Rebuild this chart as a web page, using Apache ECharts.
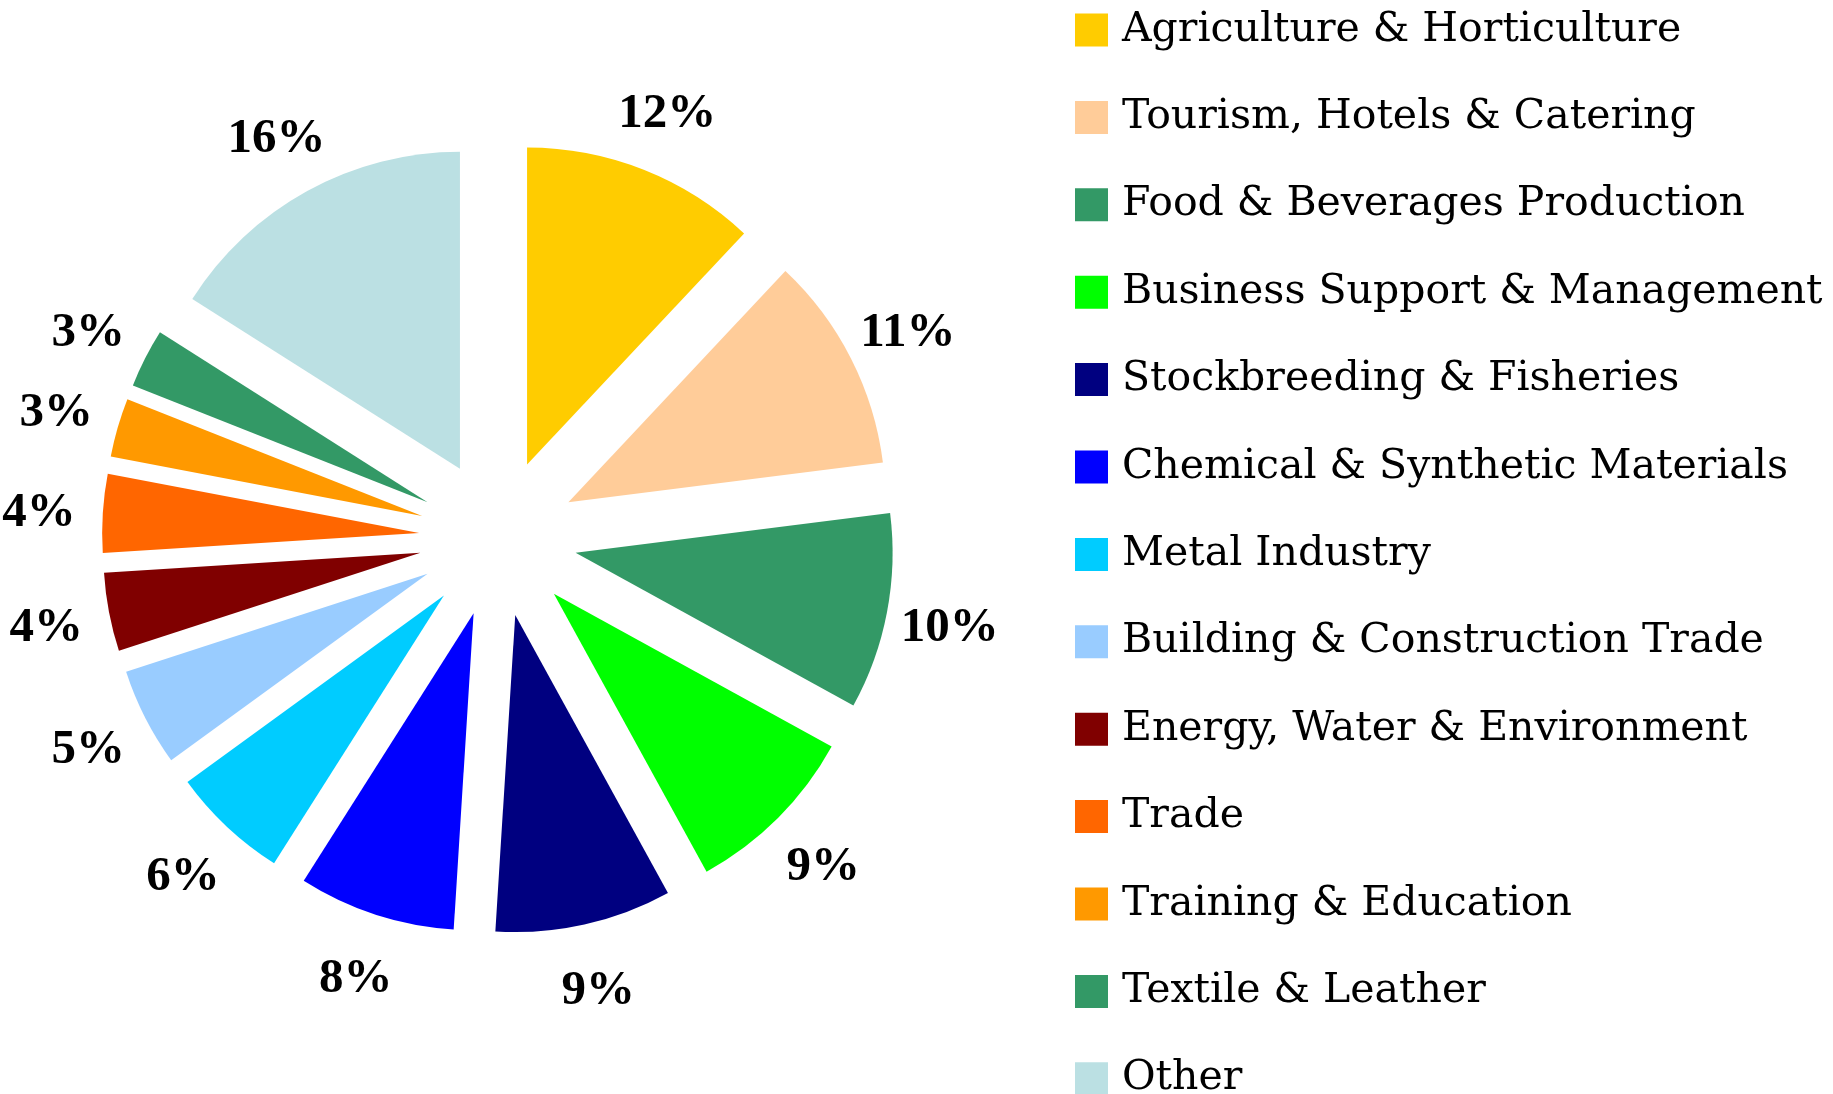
<!DOCTYPE html>
<html>
<head>
<meta charset="utf-8">
<script src="https://cdn.jsdelivr.net/npm/echarts@6/dist/echarts.min.js"></script>
<style>
html,body{margin:0;padding:0;background:#fff;}
#c{width:1833px;height:1094px;}
</style>
</head>
<body>
<div id="c"></div>
<script>
const categories = [
  'Agriculture & Horticulture',
  'Tourism, Hotels & Catering',
  'Food & Beverages Production',
  'Business Support & Management',
  'Stockbreeding & Fisheries',
  'Chemical & Synthetic Materials',
  'Metal Industry',
  'Building & Construction Trade',
  'Energy, Water & Environment',
  'Trade',
  'Training & Education',
  'Textile & Leather',
  'Other'
];
const shares = [12, 11, 10, 9, 9, 8, 6, 5, 4, 4, 3, 3, 16];
const colors = ['#FFCC00', '#FFCC99', '#339966', '#00FF00', '#000080', '#0000FF',
  '#00CCFF', '#99CCFF', '#800000', '#FF6600', '#FF9900', '#339966', '#BBE0E3'];

const chart = echarts.init(document.getElementById('c'), null, {renderer: 'canvas'});

const mainData = categories.map((n, i) => ({
  name: n, value: shares[i], selected: true,
  itemStyle: {color: colors[i]}
}));
const labelData = categories.map((n, i) => ({name: n, value: shares[i]}));

chart.setOption({
  animation: false,
  backgroundColor: '#ffffff',
  legend: {
    orient: 'vertical',
    left: 1075,
    top: 8,
    height: 1400,
    padding: 0,
    itemWidth: 33,
    itemHeight: 33,
    itemGap: 43.4,
    icon: 'rect',
    selectedMode: false,
    data: categories,
    textStyle: {
      fontFamily: 'DejaVu Serif',
      fontSize: 41,
      color: '#000',
      lineHeight: 44,
      padding: [0, 0, 0, 9]
    }
  },
  series: [
    {
      type: 'pie',
      center: [498, 538],
      radius: [0, 317],
      startAngle: 90,
      clockwise: true,
      selectedMode: 'multiple',
      selectedOffset: 79,
      avoidLabelOverlap: false,
      label: {show: false},
      labelLine: {show: false},
      itemStyle: {borderWidth: 0},
      select: {itemStyle: {borderWidth: 0}},
      emphasis: {disabled: true},
      data: mainData
    },
    {
      type: 'pie',
      center: [498, 538],
      radius: [448, 466],
      startAngle: 90,
      clockwise: true,
      silent: true,
      avoidLabelOverlap: false,
      itemStyle: {color: 'rgba(0,0,0,0)', borderWidth: 0},
      emphasis: {disabled: true},
      label: {
        show: true,
        position: 'inside',
        formatter: '{c}%',
        fontFamily: 'Liberation Serif',
        fontWeight: 'bold',
        fontSize: 49,
        color: '#000',
        offset: [0, 4]
      },
      labelLine: {show: false},
      data: labelData
    }
  ]
});
</script>
</body>
</html>
